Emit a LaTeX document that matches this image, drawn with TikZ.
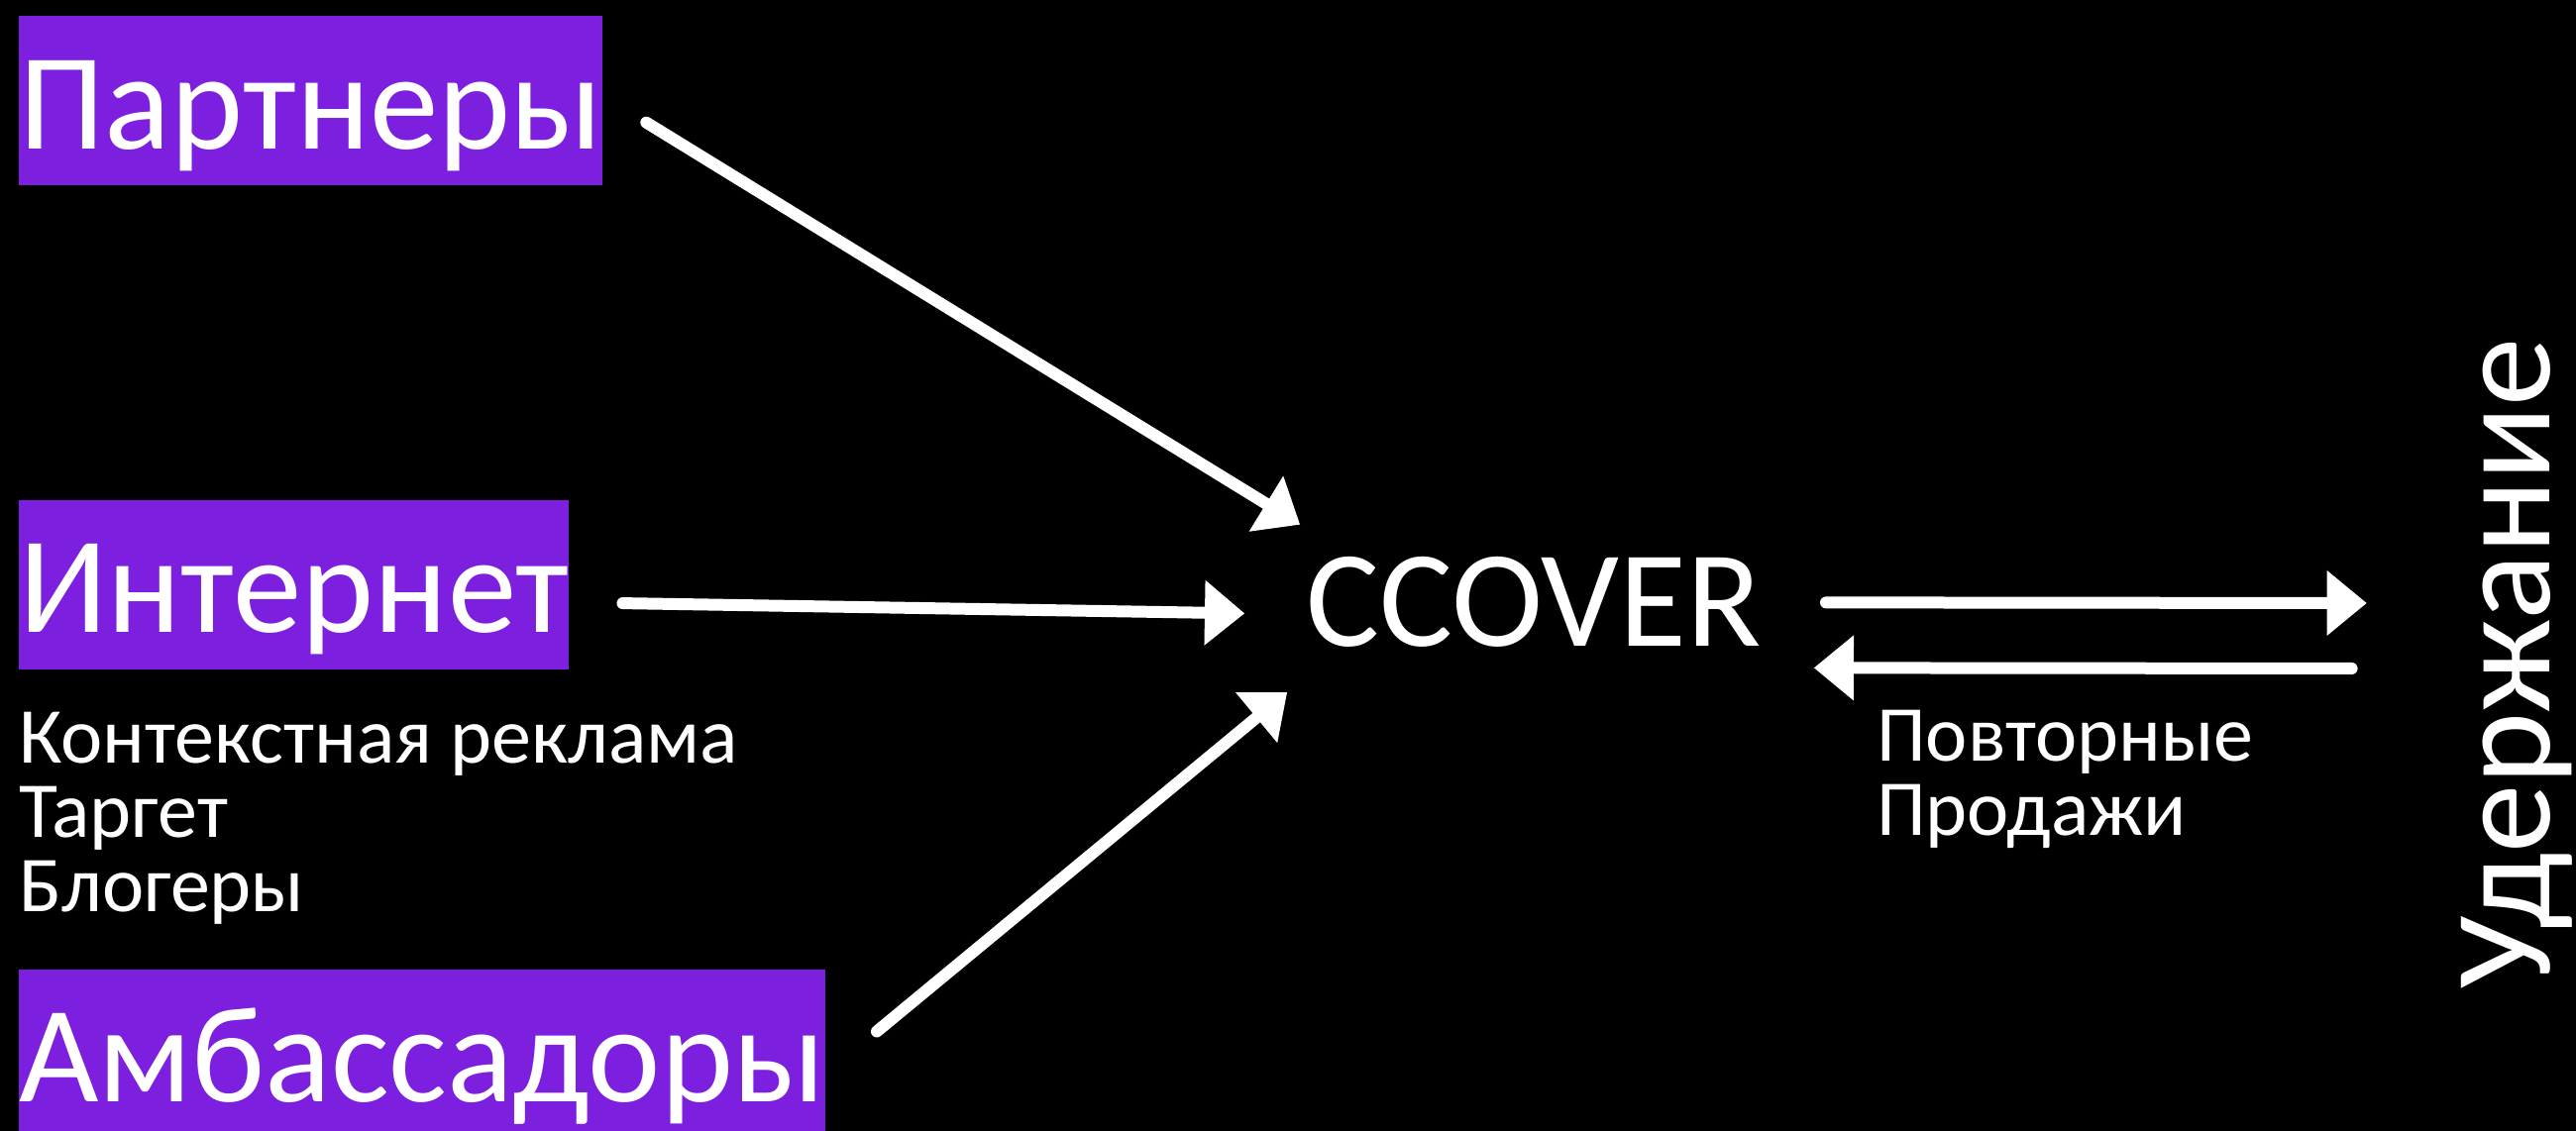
\documentclass[tikz,border=0pt]{standalone}
\usepackage{fontspec}
\setmainfont{Carlito}
\usepackage{tikz}
\usetikzlibrary{arrows.meta, positioning}
\definecolor{boxpurple}{RGB}{125,31,222}
\newcommand{\bigfont}{\fontsize{139}{139}\selectfont}
\newcommand{\smallfont}{\fontsize{80}{75}\selectfont}
\tikzstyle{channel} = [rectangle, fill=boxpurple, text=white, inner xsep=0pt, inner ysep=0pt, text height=134pt, text depth=37pt, font=\bigfont]
\tikzstyle{title} = [text=white, inner sep=0pt, font=\bigfont]
\tikzstyle{note} = [text=white, inner sep=0pt, align=left, font=\smallfont]
\tikzstyle{arrow} = [line width=12pt, white, line cap=round, -{Triangle[length=40pt, width=66pt, line width=0pt]}]

\begin{document}
\begin{tikzpicture}[x=1pt, y=1pt, node distance=300pt]
    \useasboundingbox (0,0) rectangle (2600,1142);
    \fill[black] (0,0) rectangle (2600,1142);
    \node (partners) [channel, anchor=north west] at (19,1126) {Партнеры};
    \node (internet) [channel, below=317pt of partners.south west, anchor=north west] {Интернет};
    \node (ads) [note, below=43pt of internet.south west, anchor=north west] {Контекстная реклама\\Таргет\\Блогеры};
    \node (ambassadors) [channel, below=303pt of internet.south west, anchor=north west] {Амбассадоры};
    \node (ccover) [title, anchor=base west] at (1318,489) {CCOVER};
    \node (retention) [title, rotate=90, anchor=base] at (2573,472) {Удержание};
    \node (resales) [note, anchor=north west] at (1894,425) {Повторные\\Продажи};
    \draw [arrow] ([xshift=44pt, yshift=-22pt]partners.east) -- ([xshift=-6pt, yshift=33pt]ccover.north west);
    \draw [arrow] ([xshift=54pt, yshift=-19pt]internet.east) -- ([xshift=-62pt, yshift=-11pt]ccover.west);
    \draw [arrow] ([xshift=52pt, yshift=23pt]ambassadors.east) -- ([xshift=-19pt, yshift=-45pt]ccover.south west);
    \draw [arrow] ([xshift=65pt]ccover.east) -- ([xshift=-95pt, yshift=61pt]retention.north);
    \draw [arrow] ([xshift=-110pt, yshift=-5pt]retention.north) -- ([xshift=53pt, yshift=-66pt]ccover.east);
\end{tikzpicture}
\end{document}
